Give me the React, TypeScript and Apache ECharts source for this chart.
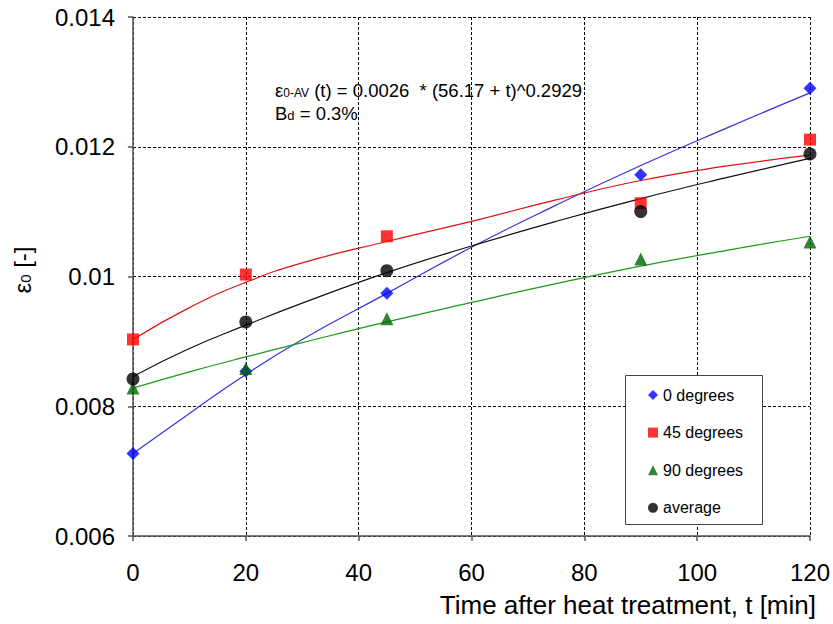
import React, { useEffect, useRef } from "react";
import * as echarts from "echarts";

const tValues = [0, 20, 45, 90, 120];
const deg0 = [0.00727, 0.00854, 0.00974, 0.01157, 0.0129];
const deg45 = [0.00903, 0.01003, 0.01062, 0.01113, 0.01211];
const deg90 = [0.00828, 0.00858, 0.00935, 0.01027, 0.01053];
const average = [0.00842, 0.0093, 0.01009, 0.011, 0.01189];

const fitT = [0, 10, 20, 30, 45, 60, 75, 90, 105, 120];
const fit0 = [0.00727, 0.00789, 0.00849, 0.00903, 0.00974, 0.01045, 0.0111, 0.01171, 0.01228, 0.01283];
const fit45 = [0.00903, 0.00952, 0.00991, 0.01021, 0.01054, 0.01085, 0.01118, 0.01148, 0.0117, 0.01187];
const fit90 = [0.00828, 0.00853, 0.00876, 0.00898, 0.0093, 0.0096, 0.00989, 0.01016, 0.0104, 0.01062];
const fitAvg = [0.00846, 0.00889, 0.00925, 0.00959, 0.01006, 0.01047, 0.01085, 0.0112, 0.01152, 0.01182];

const legendNames = ["0 degrees", "45 degrees", "90 degrees", "average"];
const equationText = "(t) = 0.0026  * (56.17 + t)^0.2929";
const xTitle = "Time after heat treatment, t [min]";

const FONT = "'Liberation Sans', Arial, sans-serif";

const pts = (ys: number[]) => tValues.map((t, i) => [t, ys[i]]);
const fit = (ys: number[]) => fitT.map((t, i) => [t, ys[i]]);

export default function App() {
  const ref = useRef<HTMLDivElement>(null);
  useEffect(() => {
    const chart = echarts.init(ref.current!, null, { renderer: "svg" });
    const axisColor = "#555";
    const split = { show: true, lineStyle: { color: "#000", type: [3, 2], width: 1 } };
    const scatter = (name: string, data: number[], symbol: string, size: number, color: string) => ({
      name,
      type: "scatter",
      data: pts(data),
      symbol,
      symbolSize: size,
      itemStyle: { color },
      z: 5,
    });
    const line = (name: string, data: number[], color: string) => ({
      name,
      type: "line",
      data: fit(data),
      smooth: true,
      showSymbol: false,
      symbol: "none",
      lineStyle: { color, width: 1.2 },
      z: 3,
    });
    chart.setOption({
      animation: false,
      backgroundColor: "#fff",
      textStyle: { fontFamily: FONT },
      grid: { left: 133, right: 20, top: 17, bottom: 88 },
      xAxis: {
        type: "value",
        min: 0,
        max: 120,
        interval: 20,
        axisLine: { show: true, onZero: false, lineStyle: { color: axisColor, width: 1.5 } },
        axisTick: { show: true, length: 5, lineStyle: { color: axisColor, width: 1.5 } },
        axisLabel: { color: "#000", fontSize: 24, fontFamily: FONT, margin: 24 },
        splitLine: split,
      },
      yAxis: {
        type: "value",
        min: 0.006,
        max: 0.014,
        interval: 0.002,
        axisLine: { show: true, onZero: false, lineStyle: { color: axisColor, width: 1.5 } },
        axisTick: { show: true, length: 5, lineStyle: { color: axisColor, width: 1.5 } },
        axisLabel: {
          color: "#000",
          fontSize: 24,
          fontFamily: FONT,
          margin: 18,
          formatter: (v: number) => String(parseFloat(v.toFixed(3))),
        },
        splitLine: split,
      },
      legend: {
        data: legendNames,
        orient: "vertical",
        left: 648,
        top: 387,
        padding: 0,
        itemWidth: 10,
        itemHeight: 10,
        itemGap: 21.6,
        textStyle: { fontSize: 16, color: "#000", fontFamily: FONT, lineHeight: 16 },
        z: 6,
      },
      graphic: [
        {
          type: "rect",
          shape: { x: 625.5, y: 375.5, width: 137, height: 149 },
          style: { fill: "#fff", stroke: "#444", lineWidth: 1 },
          z: 4,
        },
        {
          type: "text",
          x: 275,
          y: 90,
          style: {
            text: "{a|ε}{b|0-AV}{a| " + equationText + "}",
            rich: {
              a: { fontSize: 18.5, fontFamily: FONT, fill: "#000" },
              b: { fontSize: 12, fontFamily: FONT, fill: "#000", padding: [5, 0, 0, 0] },
            },
            verticalAlign: "middle",
          },
          z: 6,
        },
        {
          type: "text",
          x: 275,
          y: 113,
          style: {
            text: "{a|B}{b|d}{a| = 0.3%}",
            rich: {
              a: { fontSize: 18.5, fontFamily: FONT, fill: "#000" },
              b: { fontSize: 13, fontFamily: FONT, fill: "#000", padding: [4, 0, 0, 0] },
            },
            verticalAlign: "middle",
          },
          z: 6,
        },
        {
          type: "text",
          x: 816,
          y: 605,
          style: {
            text: xTitle,
            fontSize: 26,
            fontFamily: FONT,
            fill: "#000",
            align: "right",
            verticalAlign: "middle",
          },
        },
        {
          type: "text",
          x: 22,
          y: 270,
          rotation: Math.PI / 2,
          style: {
            text: "{e|ε}{s|0}{e| [-]}",
            rich: {
              e: { fontSize: 24, fontFamily: FONT, fill: "#000" },
              s: { fontSize: 15, fontFamily: FONT, fill: "#000", padding: [6, 0, 0, 0] },
            },
            align: "center",
            verticalAlign: "middle",
          },
        },
      ],
      series: [
        line("0 degrees fit", fit0, "#3333dd"),
        line("45 degrees fit", fit45, "#e01010"),
        line("90 degrees fit", fit90, "#1a9a1a"),
        line("average fit", fitAvg, "#111"),
        scatter("0 degrees", deg0, "diamond", 13, "#0000ff"),
        scatter("45 degrees", deg45, "rect", 12, "#ff0000"),
        scatter("90 degrees", deg90, "triangle", 13, "#006600"),
        scatter("average", average, "circle", 13, "#000000"),
      ],
    });
    return () => chart.dispose();
  }, []);
  return (
    <div
      ref={ref}
      style={{ position: "fixed", left: 0, top: 0, width: 833, height: 624, background: "#fff" }}
    />
  );
}
